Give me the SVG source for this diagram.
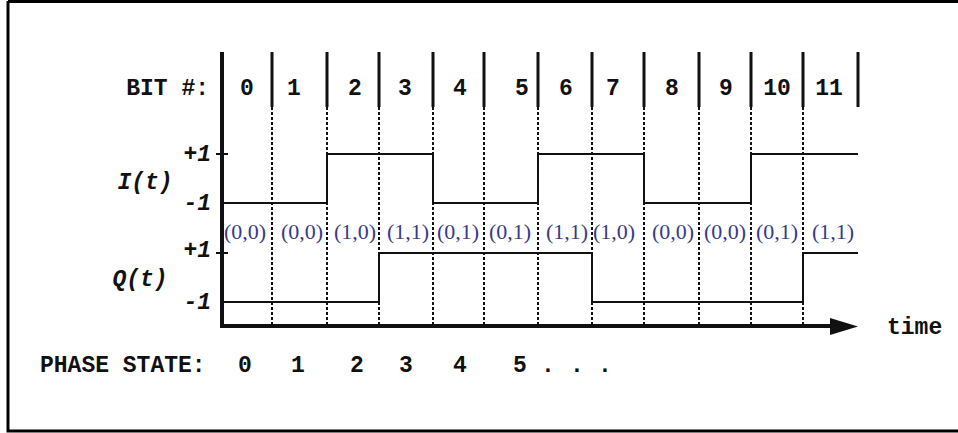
<svg xmlns="http://www.w3.org/2000/svg" width="958" height="433" viewBox="0 0 958 433">
<defs>
<style>
.mono{font-family:"Liberation Mono","Courier New",monospace;font-weight:bold;font-size:23px;fill:#111}
.it{font-style:italic}
.mid{text-anchor:middle}
.end{text-anchor:end}
.pair{font-family:"Liberation Serif","Times New Roman",serif;font-size:22px;fill:#3a3a88;text-anchor:middle}
.solid{stroke:#111;stroke-width:3;fill:none}
.dash{stroke:#111;stroke-width:2;stroke-dasharray:3 2;fill:none}
.wave{stroke:#111;stroke-width:2;fill:none}
</style>
</defs>
<rect x="0" y="0" width="958" height="433" fill="#fff"/>
<path d="M8,1.5 H958 M8,1 V431 H958" stroke="#000" stroke-width="3" fill="none"/>
<g id="bit-row">
<text class="mono end" x="209" y="95">BIT #:</text>
<g class="mono mid">
<text x="247" y="95">0</text><text x="294" y="95">1</text><text x="355" y="95">2</text><text x="405" y="95">3</text>
<text x="460" y="95">4</text><text x="522" y="95">5</text><text x="566" y="95">6</text><text x="613" y="95">7</text>
<text x="672" y="95">8</text><text x="726" y="95">9</text><text x="777" y="95">10</text><text x="829" y="95">11</text>
</g>
</g>
<g id="grid">
<path class="solid" d="M272,52V107 M327,52V107 M379,52V107 M433,52V107 M484,52V107 M538,52V107 M592,52V107 M644,52V107 M699,52V107 M751,52V107 M803,52V107 M858,52V107"/>
<path class="dash" d="M272,107V326 M327,107V326 M379,107V326 M433,107V326 M484,107V326 M538,107V326 M592,107V326 M644,107V326 M699,107V326 M751,107V326 M803,107V326"/>
</g>
<g id="axes">
<path d="M222,52V328" stroke="#111" stroke-width="4" fill="none"/>
<path d="M220,326H832" stroke="#111" stroke-width="4" fill="none"/>
<path d="M830,318 L858,326.5 L830,335 Z" fill="#111"/>
<path d="M216,154H228 M216,253H228" stroke="#111" stroke-width="2"/>
<text class="mono" x="887" y="334">time</text>
</g>
<g id="i-signal">
<text class="mono it mid" x="145" y="189">I(t)</text>
<text class="mono it end" x="211" y="161">+1</text>
<text class="mono it end" x="211" y="210">-1</text>
<path class="wave" d="M222,203H327V154H433V203H538V154H644V203H751V154H858"/>
</g>
<g id="q-signal">
<text class="mono it mid" x="140" y="286">Q(t)</text>
<text class="mono it end" x="211" y="257">+1</text>
<text class="mono it end" x="211" y="309">-1</text>
<path class="wave" d="M222,302H379V253H592V302H803V253H858"/>
</g>
<g id="pairs" class="pair">
<text x="245" y="239">(0,0)</text><text x="302" y="239">(0,0)</text><text x="355" y="239">(1,0)</text><text x="408" y="239">(1,1)</text>
<text x="458" y="239">(0,1)</text><text x="510" y="239">(0,1)</text><text x="567" y="239">(1,1)</text><text x="614" y="239">(1,0)</text>
<text x="673" y="239">(0,0)</text><text x="725" y="239">(0,0)</text><text x="777" y="239">(0,1)</text><text x="833" y="239">(1,1)</text>
</g>
<g id="phase-row">
<text class="mono" x="40" y="372">PHASE STATE:</text>
<g class="mono mid">
<text x="245" y="372">0</text><text x="298" y="372">1</text><text x="357" y="372">2</text><text x="406" y="372">3</text>
<text x="460" y="372">4</text><text x="520" y="372">5</text>
<text x="548" y="372">.</text><text x="577" y="372">.</text><text x="605" y="372">.</text>
</g>
</g>
</svg>
